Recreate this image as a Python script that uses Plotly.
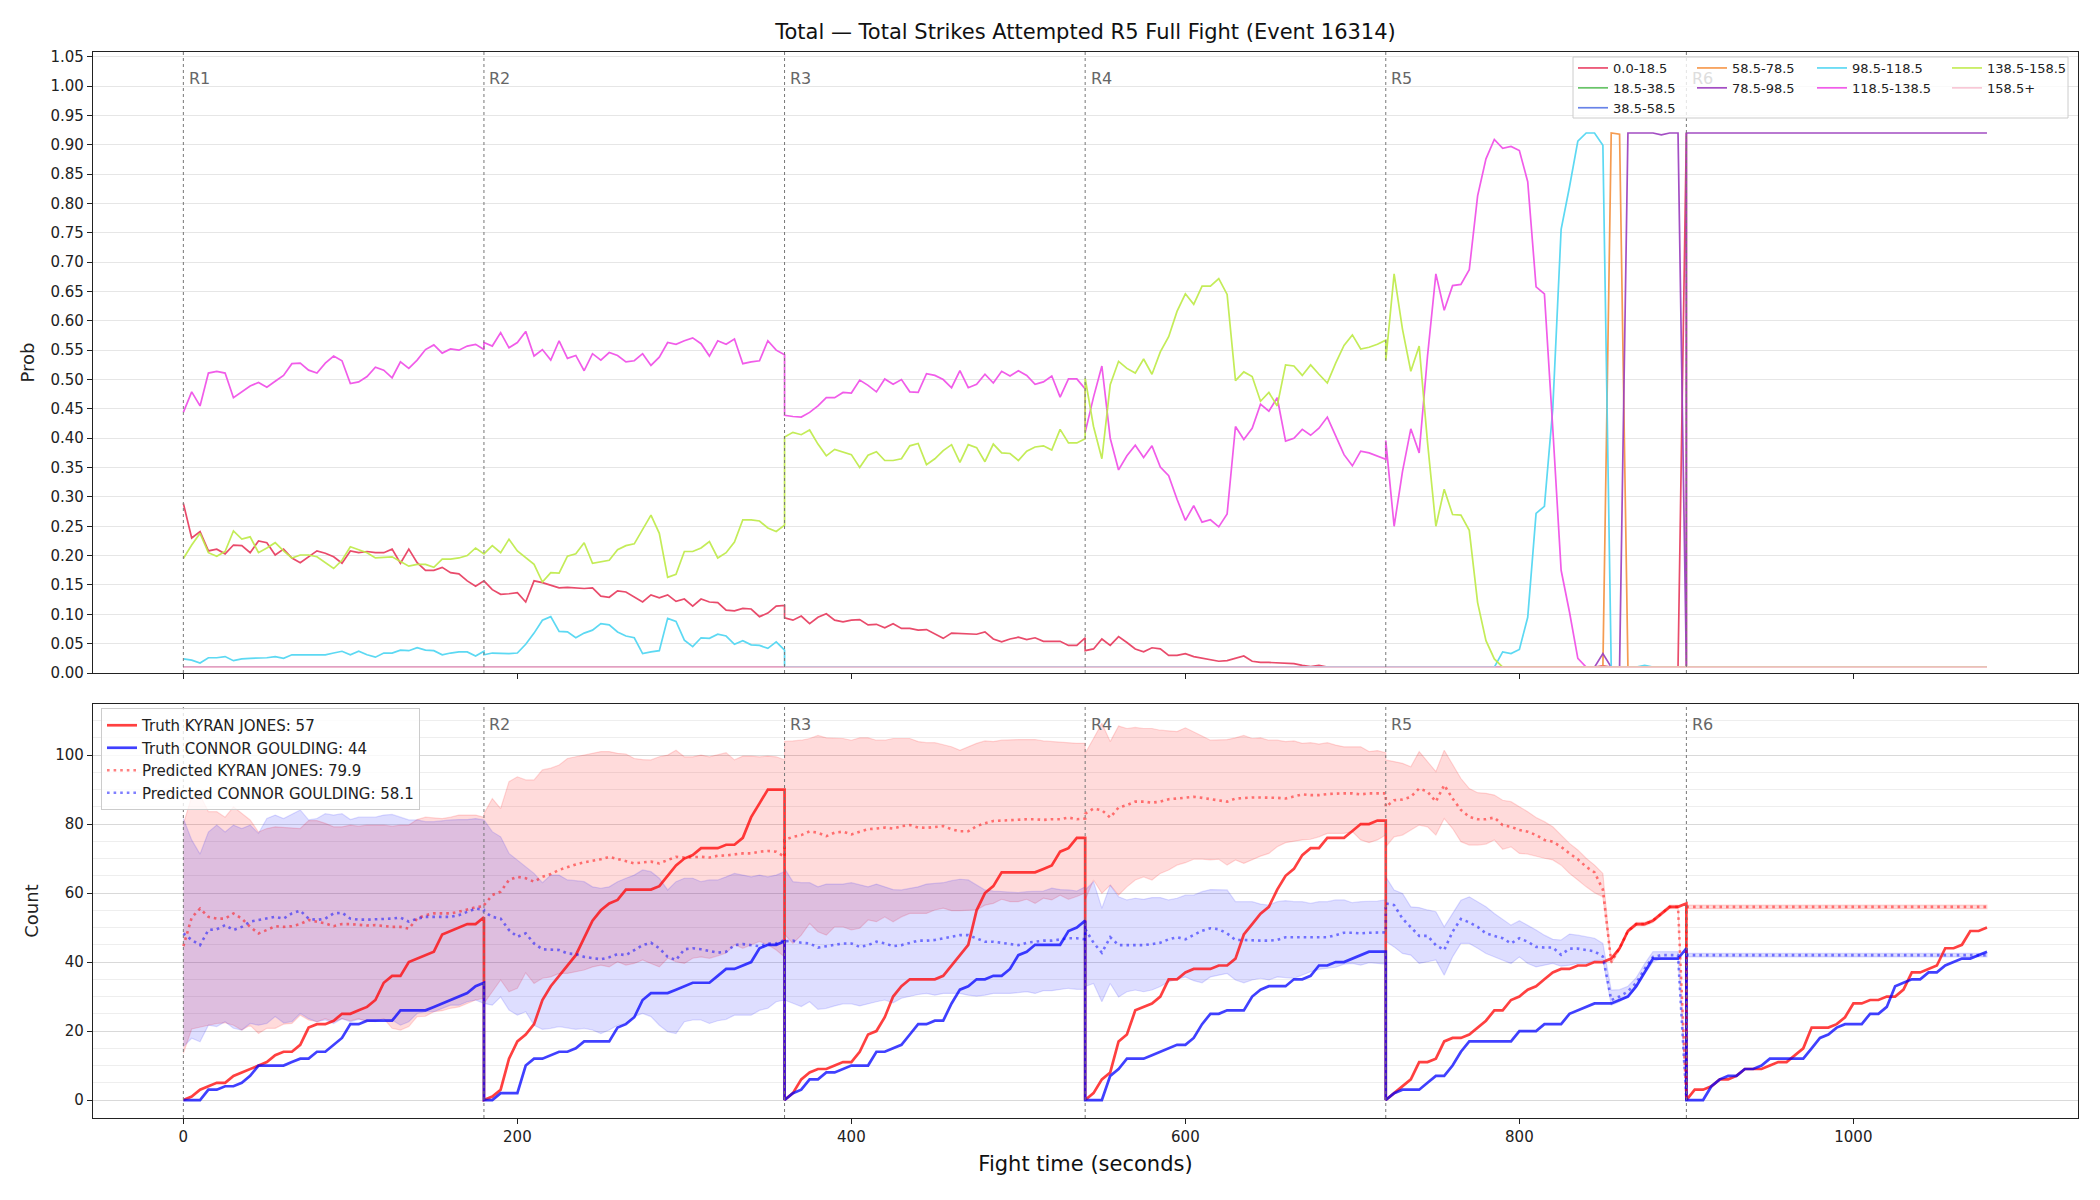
import plotly.graph_objects as go

# ---------------- structure ----------------
ROUND_STARTS = [0, 180, 360, 540, 720, 900]
ROUND_NAMES = ["R1", "R2", "R3", "R4", "R5", "R6"]
STEP_S = 5
N_PER_ROUND = 37
TIMES = [s + STEP_S * i for s in ROUND_STARTS for i in range(N_PER_ROUND)]

# ---------------- top panel: bin probabilities (per round, 37 samples each) ----------------
FLOOR = [0.01, 0.01, 0.01, 0.01, 0.01, 0.01, 0.01, 0.01, 0.01, 0.01,
         0.01, 0.01, 0.01, 0.01, 0.01, 0.01, 0.01, 0.01, 0.01, 0.01,
         0.01, 0.01, 0.01, 0.01, 0.01, 0.01, 0.01, 0.01, 0.01, 0.01,
         0.01, 0.01, 0.01, 0.01, 0.01, 0.01, 0.01]
TOP_92 = [0.92, 0.92, 0.92, 0.92, 0.92, 0.92, 0.92, 0.92, 0.92, 0.92,
          0.92, 0.92, 0.92, 0.92, 0.92, 0.92, 0.92, 0.92, 0.92, 0.92,
          0.92, 0.92, 0.92, 0.92, 0.92, 0.92, 0.92, 0.92, 0.92, 0.92,
          0.92, 0.92, 0.92, 0.92, 0.92, 0.92, 0.92]

P_0_18 = [
    [0.289, 0.230, 0.241, 0.208, 0.211, 0.203, 0.218, 0.217, 0.205, 0.225,
     0.222, 0.201, 0.211, 0.196, 0.188, 0.198, 0.208, 0.204, 0.198, 0.187,
     0.208, 0.205, 0.207, 0.205, 0.205, 0.211, 0.187, 0.211, 0.188, 0.175,
     0.175, 0.180, 0.171, 0.169, 0.157, 0.148, 0.157],
    [0.157, 0.142, 0.134, 0.135, 0.137, 0.121, 0.157, 0.154, 0.150, 0.145,
     0.146, 0.145, 0.144, 0.145, 0.131, 0.129, 0.140, 0.138, 0.129, 0.121,
     0.133, 0.128, 0.133, 0.122, 0.126, 0.114, 0.126, 0.121, 0.120, 0.107,
     0.106, 0.110, 0.109, 0.096, 0.102, 0.114, 0.115],
    [0.094, 0.090, 0.097, 0.084, 0.095, 0.101, 0.090, 0.087, 0.090, 0.091,
     0.082, 0.083, 0.077, 0.084, 0.076, 0.076, 0.073, 0.074, 0.066, 0.059,
     0.068, 0.067, 0.067, 0.066, 0.070, 0.058, 0.053, 0.058, 0.061, 0.057,
     0.060, 0.054, 0.054, 0.054, 0.047, 0.047, 0.060],
    [0.038, 0.041, 0.058, 0.047, 0.062, 0.052, 0.041, 0.036, 0.043, 0.041,
     0.030, 0.030, 0.033, 0.028, 0.025, 0.022, 0.020, 0.021, 0.025, 0.029,
     0.020, 0.018, 0.018, 0.017, 0.016, 0.016, 0.013, 0.011, 0.013, 0.010,
     0.010, 0.010, 0.010, 0.010, 0.010, 0.010, 0.010],
    [0.010, 0.010, 0.010, 0.010, 0.010, 0.010, 0.010, 0.010, 0.010, 0.010,
     0.010, 0.010, 0.010, 0.010, 0.010, 0.010, 0.010, 0.010, 0.010, 0.010,
     0.010, 0.010, 0.010, 0.010, 0.010, 0.010, 0.012, 0.010, 0.010, 0.010,
     0.010, 0.010, 0.010, 0.010, 0.010, 0.010, 0.920],
    FLOOR,
]
P_18_38 = [FLOOR, FLOOR, FLOOR, FLOOR, FLOOR, FLOOR]
P_38_58 = [FLOOR, FLOOR, FLOOR, FLOOR, FLOOR, FLOOR]
P_58_78 = [
    FLOOR, FLOOR, FLOOR, FLOOR,
    [0.010, 0.010, 0.010, 0.010, 0.010, 0.010, 0.010, 0.010, 0.010, 0.010,
     0.010, 0.010, 0.010, 0.010, 0.010, 0.010, 0.010, 0.010, 0.010, 0.010,
     0.010, 0.010, 0.010, 0.010, 0.010, 0.010, 0.010, 0.920, 0.918, 0.010,
     0.010, 0.010, 0.010, 0.010, 0.010, 0.010, 0.010],
    FLOOR,
]
P_78_98 = [
    FLOOR, FLOOR, FLOOR, FLOOR,
    [0.010, 0.010, 0.010, 0.010, 0.010, 0.010, 0.010, 0.010, 0.010, 0.010,
     0.010, 0.010, 0.010, 0.010, 0.010, 0.010, 0.010, 0.010, 0.010, 0.010,
     0.010, 0.010, 0.010, 0.010, 0.010, 0.010, 0.033, 0.010, 0.010, 0.920,
     0.920, 0.920, 0.920, 0.917, 0.920, 0.920, 0.010],
    TOP_92,
]
P_98_118 = [
    [0.024, 0.022, 0.017, 0.026, 0.026, 0.028, 0.021, 0.024, 0.025, 0.025,
     0.026, 0.028, 0.025, 0.031, 0.031, 0.031, 0.031, 0.031, 0.034, 0.037,
     0.031, 0.037, 0.031, 0.027, 0.034, 0.034, 0.039, 0.038, 0.043, 0.039,
     0.038, 0.031, 0.034, 0.036, 0.036, 0.029, 0.037],
    [0.031, 0.034, 0.033, 0.033, 0.034, 0.049, 0.068, 0.090, 0.096, 0.071,
     0.070, 0.060, 0.068, 0.073, 0.084, 0.082, 0.070, 0.063, 0.060, 0.033,
     0.036, 0.038, 0.093, 0.088, 0.056, 0.045, 0.060, 0.059, 0.066, 0.063,
     0.049, 0.055, 0.048, 0.047, 0.042, 0.053, 0.039],
    FLOOR, FLOOR,
    [0.010, 0.010, 0.010, 0.010, 0.010, 0.010, 0.010, 0.010, 0.010, 0.010,
     0.010, 0.010, 0.010, 0.010, 0.036, 0.033, 0.040, 0.095, 0.272, 0.284,
     0.450, 0.756, 0.828, 0.906, 0.920, 0.920, 0.899, 0.010, 0.010, 0.010,
     0.010, 0.013, 0.010, 0.010, 0.010, 0.010, 0.010],
    FLOOR,
]
P_118_138 = [
    [0.444, 0.479, 0.455, 0.511, 0.514, 0.511, 0.469, 0.479, 0.489, 0.495,
     0.487, 0.497, 0.507, 0.527, 0.528, 0.516, 0.511, 0.528, 0.540, 0.532,
     0.493, 0.496, 0.505, 0.521, 0.516, 0.503, 0.530, 0.519, 0.533, 0.551,
     0.559, 0.545, 0.552, 0.550, 0.557, 0.560, 0.551],
    [0.563, 0.557, 0.580, 0.554, 0.563, 0.582, 0.540, 0.551, 0.533, 0.566,
     0.536, 0.541, 0.515, 0.544, 0.533, 0.546, 0.541, 0.530, 0.532, 0.544,
     0.524, 0.538, 0.563, 0.560, 0.566, 0.571, 0.561, 0.540, 0.566, 0.560,
     0.569, 0.527, 0.530, 0.532, 0.566, 0.550, 0.542],
    [0.439, 0.437, 0.436, 0.444, 0.455, 0.469, 0.469, 0.478, 0.477, 0.499,
     0.490, 0.479, 0.501, 0.492, 0.500, 0.479, 0.478, 0.510, 0.507, 0.500,
     0.486, 0.515, 0.486, 0.492, 0.509, 0.494, 0.514, 0.506, 0.515, 0.507,
     0.492, 0.496, 0.506, 0.470, 0.501, 0.501, 0.484],
    [0.410, 0.470, 0.523, 0.400, 0.346, 0.370, 0.388, 0.367, 0.387, 0.351,
     0.336, 0.296, 0.260, 0.285, 0.257, 0.261, 0.249, 0.271, 0.420, 0.398,
     0.417, 0.458, 0.446, 0.469, 0.395, 0.400, 0.415, 0.405, 0.417, 0.436,
     0.404, 0.372, 0.353, 0.378, 0.375, 0.370, 0.364],
    [0.396, 0.250, 0.343, 0.416, 0.375, 0.540, 0.680, 0.618, 0.660, 0.662,
     0.687, 0.813, 0.876, 0.909, 0.894, 0.897, 0.890, 0.837, 0.658, 0.646,
     0.417, 0.175, 0.104, 0.025, 0.010, 0.010, 0.010, 0.010, 0.010, 0.010,
     0.010, 0.010, 0.010, 0.010, 0.010, 0.010, 0.010],
    FLOOR,
]
P_138_158 = [
    [0.195, 0.218, 0.238, 0.205, 0.199, 0.207, 0.242, 0.228, 0.232, 0.205,
     0.213, 0.222, 0.208, 0.196, 0.201, 0.201, 0.198, 0.188, 0.178, 0.192,
     0.215, 0.210, 0.205, 0.196, 0.197, 0.198, 0.190, 0.182, 0.185, 0.185,
     0.180, 0.194, 0.194, 0.196, 0.200, 0.213, 0.203],
    [0.203, 0.217, 0.205, 0.228, 0.208, 0.196, 0.185, 0.155, 0.171, 0.170,
     0.199, 0.203, 0.222, 0.187, 0.190, 0.192, 0.210, 0.217, 0.220, 0.245,
     0.269, 0.238, 0.163, 0.168, 0.207, 0.207, 0.213, 0.224, 0.196, 0.205,
     0.223, 0.261, 0.261, 0.259, 0.247, 0.241, 0.252],
    [0.402, 0.410, 0.406, 0.414, 0.390, 0.370, 0.381, 0.377, 0.372, 0.350,
     0.371, 0.377, 0.362, 0.362, 0.365, 0.387, 0.391, 0.355, 0.365, 0.379,
     0.389, 0.359, 0.389, 0.384, 0.360, 0.390, 0.375, 0.374, 0.362, 0.378,
     0.385, 0.387, 0.380, 0.415, 0.392, 0.392, 0.399],
    [0.502, 0.420, 0.365, 0.491, 0.531, 0.519, 0.511, 0.535, 0.509, 0.547,
     0.573, 0.616, 0.646, 0.628, 0.659, 0.659, 0.672, 0.645, 0.498, 0.513,
     0.505, 0.463, 0.478, 0.455, 0.525, 0.523, 0.507, 0.525, 0.509, 0.494,
     0.528, 0.558, 0.576, 0.552, 0.555, 0.560, 0.567],
    [0.532, 0.680, 0.586, 0.514, 0.557, 0.393, 0.250, 0.313, 0.270, 0.269,
     0.243, 0.120, 0.055, 0.024, 0.010, 0.010, 0.010, 0.010, 0.010, 0.010,
     0.010, 0.010, 0.010, 0.010, 0.010, 0.010, 0.010, 0.010, 0.010, 0.010,
     0.010, 0.010, 0.010, 0.010, 0.010, 0.010, 0.010],
    FLOOR,
]
P_158_UP = [FLOOR, FLOOR, FLOOR, FLOOR, FLOOR, FLOOR]

BIN_LABELS = ["0.0-18.5", "18.5-38.5", "38.5-58.5", "58.5-78.5", "78.5-98.5",
              "98.5-118.5", "118.5-138.5", "138.5-158.5", "158.5+"]
BIN_SERIES = [P_0_18, P_18_38, P_38_58, P_58_78, P_78_98,
              P_98_118, P_118_138, P_138_158, P_158_UP]
BIN_COLORS = ["#e83c5f", "#5cbf5c", "#5b78e6", "#f59342", "#9c3fbf",
              "#4fd6f2", "#f04fe8", "#bfeb4a", "#f7c3d2"]
BIN_LEGEND = ["legend", "legend", "legend", "legend2", "legend2",
              "legend3", "legend3", "legend4", "legend4"]

# ---------------- bottom panel: counts ----------------
TRUTH_RED = [
    [0, 1, 3, 4, 5, 5, 7, 8, 9, 10, 11, 13, 14, 14, 16, 21, 22, 22, 23, 25,
     25, 26, 27, 29, 34, 36, 36, 40, 41, 42, 43, 48, 49, 50, 51, 51, 53],
    [0, 1, 3, 12, 17, 19, 22, 29, 33, 36, 39, 42, 47, 52, 55, 57, 58, 61, 61, 61,
     61, 62, 65, 68, 70, 71, 73, 73, 73, 74, 74, 76, 82, 86, 90, 90, 90],
    [0, 2, 6, 8, 9, 9, 10, 11, 11, 14, 19, 20, 24, 30, 33, 35, 35, 35, 35, 36,
     39, 42, 45, 55, 60, 62, 66, 66, 66, 66, 66, 67, 68, 72, 73, 76, 76],
    [0, 2, 6, 8, 17, 19, 26, 27, 28, 30, 35, 35, 37, 38, 38, 38, 39, 39, 41, 48,
     51, 54, 56, 61, 65, 67, 71, 73, 73, 76, 76, 76, 78, 80, 80, 81, 81],
    [0, 2, 4, 6, 11, 11, 12, 17, 18, 18, 19, 21, 23, 26, 26, 29, 30, 32, 33, 35,
     37, 38, 38, 39, 39, 40, 40, 41, 44, 49, 51, 51, 52, 54, 56, 56, 57],
    [0, 3, 3, 4, 6, 6, 7, 9, 9, 9, 10, 11, 11, 13, 15, 21, 21, 21, 22, 24,
     28, 28, 29, 29, 30, 30, 32, 37, 37, 38, 39, 44, 44, 45, 49, 49, 50],
]
TRUTH_BLUE = [
    [0, 0, 0, 3, 3, 4, 4, 5, 7, 10, 10, 10, 10, 11, 12, 12, 14, 14, 16, 18,
     22, 22, 23, 23, 23, 23, 26, 26, 26, 26, 27, 28, 29, 30, 31, 33, 34],
    [0, 0, 2, 2, 2, 10, 12, 12, 13, 14, 14, 15, 17, 17, 17, 17, 21, 22, 24, 29,
     31, 31, 31, 32, 33, 34, 34, 34, 36, 38, 38, 39, 40, 44, 45, 45, 46],
    [0, 2, 3, 6, 6, 8, 8, 9, 10, 10, 10, 14, 14, 15, 16, 19, 22, 22, 23, 23,
     28, 32, 33, 35, 35, 36, 36, 38, 42, 43, 45, 45, 45, 45, 49, 50, 52],
    [0, 0, 0, 7, 9, 12, 12, 12, 13, 14, 15, 16, 16, 18, 22, 25, 25, 26, 26, 26,
     30, 32, 33, 33, 33, 35, 35, 36, 39, 39, 40, 40, 41, 42, 43, 43, 43],
    [0, 2, 3, 3, 3, 5, 7, 7, 10, 14, 17, 17, 17, 17, 17, 17, 20, 20, 20, 22,
     22, 22, 25, 26, 27, 28, 28, 28, 29, 30, 33, 37, 41, 41, 41, 41, 44],
    [0, 0, 0, 4, 6, 7, 7, 9, 9, 10, 12, 12, 12, 12, 12, 15, 18, 19, 21, 22,
     22, 22, 25, 25, 27, 33, 34, 35, 35, 37, 37, 39, 40, 41, 41, 42, 43],
]
PRED_RED_R6 = [56.0, 56.0, 56.0, 56.0, 56.0, 56.0, 56.0, 56.0, 56.0, 56.0,
               56.0, 56.0, 56.0, 56.0, 56.0, 56.0, 56.0, 56.0, 56.0, 56.0,
               56.0, 56.0, 56.0, 56.0, 56.0, 56.0, 56.0, 56.0, 56.0, 56.0,
               56.0, 56.0, 56.0, 56.0, 56.0, 56.0, 56.0]
PRED_BLUE_R6 = [42.0, 42.0, 42.0, 42.0, 42.0, 42.0, 42.0, 42.0, 42.0, 42.0,
                42.0, 42.0, 42.0, 42.0, 42.0, 42.0, 42.0, 42.0, 42.0, 42.0,
                42.0, 42.0, 42.0, 42.0, 42.0, 42.0, 42.0, 42.0, 42.0, 42.0,
                42.0, 42.0, 42.0, 42.0, 42.0, 42.0, 42.0]
PRED_RED = [
    [44.6, 52.9, 55.5, 53.1, 52.6, 52.6, 54.1, 52.6, 50.2, 48.3,
     49.3, 50.4, 50.2, 50.4, 51.0, 52.2, 51.7, 51.2, 50.4, 51.0,
     51.0, 50.7, 50.6, 50.7, 50.4, 50.2, 50.2, 49.7, 52.6, 53.6,
     54.1, 54.1, 54.1, 54.6, 55.3, 55.9, 56.2],
    [56.5, 59.4, 60.4, 63.8, 64.7, 64.3, 63.3, 64.7, 65.5, 66.7,
     67.6, 68.3, 68.9, 69.3, 69.8, 70.5, 69.8, 69.3, 68.6, 68.9,
     69.1, 68.6, 69.6, 70.5, 70.3, 70.5, 70.5, 70.3, 70.8, 70.9,
     71.3, 71.5, 71.5, 72.0, 72.2, 72.0, 70.5],
    [75.4, 76.3, 76.8, 77.9, 77.5, 76.5, 77.5, 77.8, 77.0, 77.8,
     78.5, 78.7, 79.0, 78.7, 79.4, 79.7, 79.0, 78.9, 79.2, 79.4,
     78.5, 77.9, 77.9, 79.4, 80.2, 80.9, 81.0, 81.2, 81.4, 81.4,
     81.4, 81.2, 81.4, 81.4, 81.9, 81.4, 81.6],
    [83.0, 84.5, 84.0, 81.9, 84.8, 85.5, 86.5, 86.5, 86.2, 86.5,
     87.2, 87.4, 87.7, 87.9, 87.6, 87.2, 86.8, 86.5, 87.4, 87.6,
     87.7, 87.7, 87.7, 87.6, 87.4, 87.9, 88.6, 88.4, 88.4, 88.7,
     88.9, 88.9, 88.9, 88.6, 88.9, 88.9, 88.9],
    [85.0, 86.9, 87.1, 87.9, 90.3, 89.4, 86.5, 91.3, 87.4, 84.1,
     82.1, 81.4, 81.4, 81.9, 79.7, 79.2, 78.3, 77.8, 76.8, 75.4,
     74.9, 73.4, 71.5, 69.8, 67.6, 66.0, 61.0, 40.0, 44.0, 49.0,
     51.0, 51.0, 52.0, 54.0, 56.0, 56.0, 0.0],
    PRED_RED_R6,
]
PRED_BLUE = [
    [48.3, 46.4, 44.9, 49.3, 49.5, 50.7, 49.3, 50.2, 51.7, 52.2,
     52.6, 53.1, 52.6, 54.1, 54.9, 52.6, 52.2, 52.6, 54.1, 54.3,
     52.6, 52.3, 52.3, 52.5, 52.5, 52.6, 52.9, 51.7, 52.6, 53.1,
     53.1, 52.9, 53.1, 53.6, 54.6, 55.5, 55.1],
    [54.6, 53.1, 52.6, 49.3, 47.3, 48.3, 45.4, 43.7, 43.7, 43.5,
     42.5, 42.3, 41.5, 41.1, 40.8, 41.4, 42.3, 42.0, 43.5, 44.9,
     45.6, 44.0, 41.5, 40.6, 43.7, 44.0, 43.7, 43.3, 42.7, 43.0,
     44.9, 45.2, 44.9, 44.6, 45.4, 45.4, 46.4],
    [46.0, 46.2, 45.6, 45.4, 44.2, 44.6, 45.1, 45.4, 45.4, 44.4,
     44.9, 45.9, 45.4, 44.6, 44.9, 45.6, 46.2, 46.2, 46.4, 46.9,
     47.3, 47.8, 47.8, 46.9, 45.9, 45.9, 45.6, 45.1, 44.9, 45.6,
     45.9, 46.2, 46.2, 46.6, 46.9, 46.9, 46.6],
    [49.6, 45.6, 42.7, 47.2, 44.9, 44.9, 45.1, 44.9, 45.2, 45.6,
     46.6, 47.2, 46.6, 47.8, 49.1, 49.8, 49.5, 48.3, 46.4, 46.4,
     46.2, 46.2, 46.2, 46.4, 47.2, 47.2, 47.2, 47.2, 47.2, 47.2,
     47.8, 48.5, 48.5, 48.3, 48.5, 48.6, 48.6],
    [57.0, 56.5, 52.6, 50.2, 47.6, 47.6, 44.9, 43.5, 48.8, 52.5,
     51.5, 50.2, 48.3, 47.6, 46.9, 45.4, 46.9, 45.9, 44.4, 44.2,
     44.2, 42.1, 43.9, 43.9, 43.5, 43.1, 41.6, 29.0, 30.0, 31.5,
     34.0, 38.0, 41.5, 42.0, 42.0, 42.0, 0.0],
    PRED_BLUE_R6,
]
BAND_RED_HI = [
    [80.0, 88.0, 88.4, 83.6, 83.6, 82.0, 85.0, 83.0, 81.2, 77.7,
     78.7, 79.2, 79.0, 79.0, 78.7, 81.0, 81.0, 80.2, 79.2, 79.2,
     79.7, 79.4, 79.7, 79.7, 79.7, 79.4, 79.7, 79.7, 81.3, 82.0,
     81.9, 81.6, 82.0, 82.6, 82.6, 82.6, 82.0],
    [83.0, 87.4, 84.5, 92.3, 93.7, 92.8, 92.8, 95.7, 96.2, 97.1,
     99.0, 99.5, 100.0, 100.7, 101.0, 101.0, 100.5, 100.3, 99.0, 98.7,
     98.6, 99.5, 100.0, 101.4, 99.5, 99.5, 100.0, 99.5, 100.0, 100.7,
     98.6, 99.7, 99.7, 99.5, 99.7, 99.5, 98.6],
    [104.0, 104.1, 104.3, 104.8, 105.7, 105.0, 104.8, 104.8, 104.3, 105.0,
     105.0, 104.3, 104.3, 104.8, 104.8, 104.8, 103.9, 103.6, 103.6, 102.9,
     102.4, 101.4, 102.4, 103.4, 104.1, 103.9, 104.3, 104.5, 104.5, 104.5,
     104.5, 104.1, 103.9, 103.9, 103.6, 103.4, 103.4],
    [100.5, 104.8, 109.2, 103.9, 108.4, 107.7, 108.0, 107.7, 107.7, 107.2,
     106.9, 106.8, 107.9, 106.8, 105.5, 104.3, 104.3, 104.5, 105.0, 105.7,
     104.8, 105.0, 104.3, 104.3, 103.9, 104.1, 103.4, 103.6, 103.2, 103.6,
     102.9, 102.4, 102.4, 102.4, 101.0, 101.3, 100.7],
    [98.6, 98.1, 97.6, 96.6, 101.0, 98.1, 95.2, 101.4, 97.1, 93.2,
     90.3, 89.1, 88.9, 88.4, 86.9, 86.5, 85.0, 83.6, 81.9, 80.7,
     79.2, 76.8, 74.4, 72.5, 70.1, 68.1, 65.7, 40.5, 44.5, 49.5,
     51.5, 51.5, 52.5, 54.5, 56.5, 56.5, 0.0],
    [56.5, 56.5, 56.5, 56.5, 56.5, 56.5, 56.5, 56.5, 56.5, 56.5,
     56.5, 56.5, 56.5, 56.5, 56.5, 56.5, 56.5, 56.5, 56.5, 56.5,
     56.5, 56.5, 56.5, 56.5, 56.5, 56.5, 56.5, 56.5, 56.5, 56.5,
     56.5, 56.5, 56.5, 56.5, 56.5, 56.5, 56.5],
]
BAND_RED_LO = [
    [13.5, 20.6, 21.3, 21.7, 22.2, 22.4, 21.7, 20.3, 21.7, 19.3,
     20.8, 20.8, 22.0, 22.2, 24.6, 23.2, 22.7, 23.6, 22.7, 23.6,
     23.0, 23.6, 22.7, 23.0, 23.6, 20.8, 20.3, 21.3, 24.2, 24.3,
     25.6, 25.9, 26.6, 27.0, 28.0, 29.0, 29.5],
    [28.0, 31.4, 34.8, 31.4, 32.4, 36.9, 33.8, 35.3, 35.7, 36.7,
     36.7, 37.2, 37.7, 38.6, 39.1, 38.6, 40.1, 39.1, 39.6, 40.6,
     39.6, 38.6, 41.1, 40.1, 39.6, 41.1, 41.5, 41.1, 41.8, 42.6,
     45.0, 44.0, 45.0, 46.0, 45.0, 43.5, 41.5],
    [48.0, 45.4, 47.8, 51.2, 48.8, 47.8, 50.2, 50.2, 49.3, 49.8,
     52.2, 51.7, 53.1, 51.7, 53.1, 54.1, 54.1, 54.1, 55.1, 55.6,
     54.9, 54.9, 54.9, 55.1, 56.5, 57.0, 58.2, 57.5, 57.5, 58.2,
     57.0, 58.5, 58.0, 59.4, 58.2, 59.0, 60.0],
    [58.0, 63.8, 59.9, 62.3, 59.4, 61.8, 63.8, 64.7, 63.8, 65.7,
     66.7, 68.1, 68.8, 69.8, 69.8, 69.6, 69.8, 68.1, 69.6, 68.6,
     69.6, 70.7, 71.5, 73.4, 74.6, 74.9, 75.4, 75.6, 76.3, 77.3,
     77.3, 77.3, 77.8, 75.4, 74.6, 75.4, 76.8],
    [73.4, 76.3, 76.8, 78.3, 79.7, 79.2, 76.8, 81.6, 78.7, 74.9,
     73.9, 73.9, 74.2, 75.4, 72.7, 73.4, 71.5, 71.3, 70.7, 70.1,
     69.6, 68.1, 65.7, 63.8, 61.8, 60.1, 58.9, 39.5, 43.5, 48.5,
     50.5, 50.5, 51.5, 53.5, 55.5, 55.5, 0.0],
    [55.5, 55.5, 55.5, 55.5, 55.5, 55.5, 55.5, 55.5, 55.5, 55.5,
     55.5, 55.5, 55.5, 55.5, 55.5, 55.5, 55.5, 55.5, 55.5, 55.5,
     55.5, 55.5, 55.5, 55.5, 55.5, 55.5, 55.5, 55.5, 55.5, 55.5,
     55.5, 55.5, 55.5, 55.5, 55.5, 55.5, 55.5],
]
BAND_BLUE_HI = [
    [81.6, 75.4, 71.3, 77.7, 79.7, 77.7, 79.7, 78.7, 79.7, 77.3,
     81.6, 82.6, 81.6, 82.9, 84.1, 81.2, 81.6, 83.0, 82.6, 83.0,
     81.3, 82.0, 82.0, 82.0, 82.6, 82.8, 82.0, 81.2, 81.2, 80.7,
     80.7, 81.0, 81.2, 81.3, 81.3, 81.6, 81.2],
    [81.2, 77.8, 76.3, 71.5, 69.6, 67.6, 65.7, 63.0, 65.2, 65.2,
     63.8, 63.6, 63.3, 61.8, 61.4, 61.8, 63.3, 64.3, 65.2, 66.7,
     66.2, 64.3, 60.9, 63.3, 64.3, 64.3, 63.3, 63.8, 63.8, 64.7,
     65.7, 65.2, 64.7, 65.2, 64.7, 65.2, 66.2],
    [67.1, 63.3, 63.0, 63.0, 61.8, 62.6, 62.6, 62.6, 63.0, 62.3,
     61.8, 62.6, 61.8, 61.0, 60.9, 61.4, 61.8, 62.6, 62.8, 63.0,
     63.6, 64.0, 63.8, 62.3, 60.9, 60.6, 60.4, 60.1, 60.1, 60.4,
     60.4, 60.6, 61.4, 61.0, 60.9, 60.6, 61.8],
    [60.9, 63.3, 55.6, 62.3, 58.9, 58.0, 58.5, 58.2, 58.7, 58.7,
     58.0, 58.5, 59.4, 59.4, 60.4, 61.0, 61.0, 60.9, 57.5, 57.5,
     57.5, 56.8, 56.5, 57.5, 57.8, 57.5, 57.5, 57.0, 57.5, 57.5,
     58.0, 58.0, 57.2, 57.5, 57.5, 57.7, 58.0],
    [64.7, 60.9, 59.9, 56.0, 55.8, 55.1, 54.6, 50.2, 54.1, 57.9,
     58.9, 57.5, 56.0, 54.1, 52.4, 50.7, 52.0, 50.7, 49.3, 47.8,
     46.6, 46.4, 48.1, 47.8, 47.3, 46.9, 45.4, 31.9, 32.0, 33.0,
     35.5, 39.5, 43.0, 43.0, 43.0, 43.0, 0.0],
    [42.5, 42.5, 42.5, 42.5, 42.5, 42.5, 42.5, 42.5, 42.5, 42.5,
     42.5, 42.5, 42.5, 42.5, 42.5, 42.5, 42.5, 42.5, 42.5, 42.5,
     42.5, 42.5, 42.5, 42.5, 42.5, 42.5, 42.5, 42.5, 42.5, 42.5,
     42.5, 42.5, 42.5, 42.5, 42.5, 42.5, 42.5],
]
BAND_BLUE_LO = [
    [15.5, 17.9, 16.9, 21.7, 21.3, 22.7, 20.8, 20.3, 22.2, 21.7,
     22.2, 24.2, 22.4, 22.7, 25.1, 23.6, 22.7, 23.2, 22.2, 23.6,
     22.7, 23.4, 23.0, 22.7, 23.4, 23.2, 21.7, 22.7, 25.1, 25.6,
     25.6, 26.6, 27.5, 27.5, 28.5, 29.0, 28.0],
    [28.0, 27.5, 29.9, 26.1, 24.6, 25.6, 21.7, 20.5, 20.8, 21.3,
     20.8, 20.5, 20.8, 20.3, 19.3, 20.3, 21.7, 22.2, 24.2, 25.1,
     24.2, 21.7, 19.8, 19.3, 22.7, 23.2, 23.2, 22.2, 23.0, 23.4,
     24.6, 24.6, 24.6, 26.0, 26.6, 28.5, 29.0],
    [29.0, 28.0, 27.1, 28.5, 26.3, 26.6, 27.3, 27.9, 27.9, 27.3,
     28.0, 28.5, 29.0, 28.2, 29.5, 30.0, 30.6, 30.9, 30.4, 30.9,
     30.9, 30.9, 30.4, 30.1, 30.4, 30.9, 30.9, 30.9, 31.1, 31.4,
     30.9, 31.7, 31.7, 32.1, 32.4, 32.1, 32.1],
    [32.9, 33.8, 28.5, 33.8, 29.9, 31.4, 31.9, 31.4, 31.9, 32.9,
     34.3, 35.0, 35.7, 34.6, 34.0, 35.7, 36.2, 36.7, 34.8, 34.0,
     34.8, 35.3, 34.8, 35.7, 35.5, 35.3, 36.2, 37.2, 37.9, 38.2,
     38.5, 39.4, 39.6, 39.1, 39.8, 39.6, 39.4],
    [46.0, 44.4, 42.5, 42.0, 39.6, 40.1, 40.6, 36.2, 41.5, 45.4,
     45.4, 44.0, 42.5, 41.5, 40.6, 39.6, 41.5, 39.6, 38.6, 39.1,
     39.6, 38.8, 39.1, 39.6, 39.6, 40.4, 40.6, 27.5, 28.5, 30.0,
     32.5, 36.5, 40.0, 41.0, 41.0, 41.0, 0.0],
    [41.5, 41.5, 41.5, 41.5, 41.5, 41.5, 41.5, 41.5, 41.5, 41.5,
     41.5, 41.5, 41.5, 41.5, 41.5, 41.5, 41.5, 41.5, 41.5, 41.5,
     41.5, 41.5, 41.5, 41.5, 41.5, 41.5, 41.5, 41.5, 41.5, 41.5,
     41.5, 41.5, 41.5, 41.5, 41.5, 41.5, 41.5],
]

NAME_RED = "KYRAN JONES"
NAME_BLUE = "CONNOR GOULDING"
TRUTH_FINAL = {NAME_RED: 57, NAME_BLUE: 44}
PRED_FINAL = {NAME_RED: 79.9, NAME_BLUE: 58.1}

TITLE = "Total \u2014 Total Strikes Attempted R5 Full Fight (Event 16314)"


def flat(rounds):
    return [v for r in rounds for v in r]


FONT = "DejaVu Sans, Liberation Sans, sans-serif"
fig = go.Figure()

# ---- top panel lines ----
for lab, ser, col, lg in zip(BIN_LABELS, BIN_SERIES, BIN_COLORS, BIN_LEGEND):
    fig.add_trace(go.Scatter(
        x=TIMES, y=flat(ser), mode="lines", name=lab,
        line=dict(color=col, width=1.7), opacity=0.92,
        xaxis="x", yaxis="y", legend=lg))

# ---- bottom panel bands ----
for hi, lo, fillc in [(BAND_RED_HI, BAND_RED_LO, "rgba(255,0,0,0.14)"),
                      (BAND_BLUE_HI, BAND_BLUE_LO, "rgba(0,0,255,0.13)")]:
    up = flat(hi)
    dn = flat(lo)
    fig.add_trace(go.Scatter(
        x=TIMES + TIMES[::-1], y=up + dn[::-1], mode="lines",
        fill="toself", fillcolor=fillc,
        line=dict(color=fillc, width=1.2),
        showlegend=False, hoverinfo="skip", xaxis="x2", yaxis="y2"))

# ---- truth lines ----
fig.add_trace(go.Scatter(
    x=TIMES, y=flat(TRUTH_RED), mode="lines",
    name=f"Truth {NAME_RED}: {TRUTH_FINAL[NAME_RED]}",
    line=dict(color="rgba(255,0,0,0.75)", width=2.7),
    xaxis="x2", yaxis="y2", legend="legend5"))
fig.add_trace(go.Scatter(
    x=TIMES, y=flat(TRUTH_BLUE), mode="lines",
    name=f"Truth {NAME_BLUE}: {TRUTH_FINAL[NAME_BLUE]}",
    line=dict(color="rgba(0,0,255,0.75)", width=2.7),
    xaxis="x2", yaxis="y2", legend="legend5"))
# ---- predicted lines ----
fig.add_trace(go.Scatter(
    x=TIMES, y=flat(PRED_RED), mode="lines",
    name=f"Predicted {NAME_RED}: {PRED_FINAL[NAME_RED]}",
    line=dict(color="rgba(255,0,0,0.5)", width=2.6, dash="2.6px,4px"),
    xaxis="x2", yaxis="y2", legend="legend5"))
fig.add_trace(go.Scatter(
    x=TIMES, y=flat(PRED_BLUE), mode="lines",
    name=f"Predicted {NAME_BLUE}: {PRED_FINAL[NAME_BLUE]}",
    line=dict(color="rgba(0,0,255,0.5)", width=2.6, dash="2.6px,4px"),
    xaxis="x2", yaxis="y2", legend="legend5"))

# ---- geometry ----
W, H = 2100, 1200
ML, MR, MT, MB = 93, 22, 52, 82
PW = W - ML - MR
PH = H - MT - MB


def px_x(px):
    return (px - ML) / PW


def px_y(py):
    return (H - MB - py) / PH


TOP_DOMAIN = [px_y(673), 1.0]
BOT_DOMAIN = [0.0, px_y(704)]
XRANGE = [-54.1, 1134.5]

shapes = []
annotations = []
for t, nm in zip(ROUND_STARTS, ROUND_NAMES):
    for yref in ["y domain", "y2 domain"]:
        shapes.append(dict(type="line", xref="x" if yref.startswith("y ") else "x2",
                           yref=yref, x0=t, x1=t, y0=0, y1=1,
                           line=dict(color="#777777", width=1, dash="dot"), layer="above"))
    annotations.append(dict(x=t + 2, y=1.0137, xref="x", yref="y", text=nm,
                            showarrow=False, xanchor="left", yanchor="middle",
                            font=dict(size=16, color="#dddddd" if nm == "R6" else "#666666", family=FONT)))
    if nm != "R1":
        annotations.append(dict(x=t + 2, y=109, xref="x2", yref="y2", text=nm,
                                showarrow=False, xanchor="left", yanchor="middle",
                                font=dict(size=16, color="#666666", family=FONT)))

# top legend box
shapes.append(dict(type="rect", xref="paper", yref="paper",
                   x0=px_x(1573), x1=px_x(2068), y0=px_y(118), y1=px_y(57),
                   fillcolor="rgba(255,255,255,0.8)",
                   line=dict(color="#cccccc", width=1), layer="above"))

axis_common = dict(showline=True, mirror=True, linecolor="#222222", linewidth=1.2,
                   ticks="outside", ticklen=5, tickwidth=1.1, tickcolor="#222222",
                   zeroline=False,
                   tickfont=dict(size=15, color="#222222", family=FONT))

leg_common = dict(orientation="v", bgcolor="rgba(0,0,0,0)", borderwidth=0,
                  font=dict(size=13, color="#222222", family=FONT),
                  xanchor="left", yanchor="top", tracegroupgap=0, itemwidth=30)

fig.update_layout(
    width=W, height=H,
    margin=dict(l=ML, r=MR, t=MT, b=MB, autoexpand=False),
    plot_bgcolor="white", paper_bgcolor="white",
    title=dict(text=TITLE, x=px_x((ML + W - MR) / 2), xref="paper", xanchor="center",
               y=1 - 32 / H, yanchor="middle",
               font=dict(size=21, color="#111111", family=FONT)),
    xaxis=dict(domain=[0, 1], anchor="y", range=XRANGE, showticklabels=False,
               tickvals=[0, 200, 400, 600, 800, 1000], showgrid=False, **axis_common),
    yaxis=dict(domain=TOP_DOMAIN, anchor="x", range=[0, 1.058], tick0=0, dtick=0.05,
               tickformat=".2f", showgrid=True, gridcolor="#e6e6e6", gridwidth=1,
               title=dict(text="Prob", standoff=11, font=dict(size=18, color="#222222", family=FONT)),
               **axis_common),
    xaxis2=dict(domain=[0, 1], anchor="y2", range=XRANGE,
                tickvals=[0, 200, 400, 600, 800, 1000], showgrid=False,
                title=dict(text="Fight time (seconds)", standoff=11,
                           font=dict(size=21, color="#111111", family=FONT)),
                **axis_common),
    yaxis2=dict(domain=BOT_DOMAIN, anchor="x2", range=[-5.2, 114.8], tick0=0, dtick=20,
                showgrid=True, gridcolor="#d9d9d9", gridwidth=1,
                minor=dict(dtick=5, showgrid=True, gridcolor="#eeeeee", gridwidth=1, ticks=""),
                title=dict(text="Count", standoff=11, font=dict(size=18, color="#222222", family=FONT)),
                **axis_common),
    legend=dict(x=px_x(1614 - 41), y=px_y(53), **leg_common),
    legend2=dict(x=px_x(1733 - 41), y=px_y(53), **leg_common),
    legend3=dict(x=px_x(1853 - 41), y=px_y(53), **leg_common),
    legend4=dict(x=px_x(1988 - 41), y=px_y(53), **leg_common),
    legend5=dict(x=px_x(101), y=px_y(708), orientation="v",
                 bgcolor="rgba(255,255,255,0.8)", bordercolor="#cccccc", borderwidth=1,
                 font=dict(size=15, color="#222222", family=FONT),
                 xanchor="left", yanchor="top", itemwidth=30),
    shapes=shapes,
    annotations=annotations,
    showlegend=True,
)

fig.write_html("out.html")
